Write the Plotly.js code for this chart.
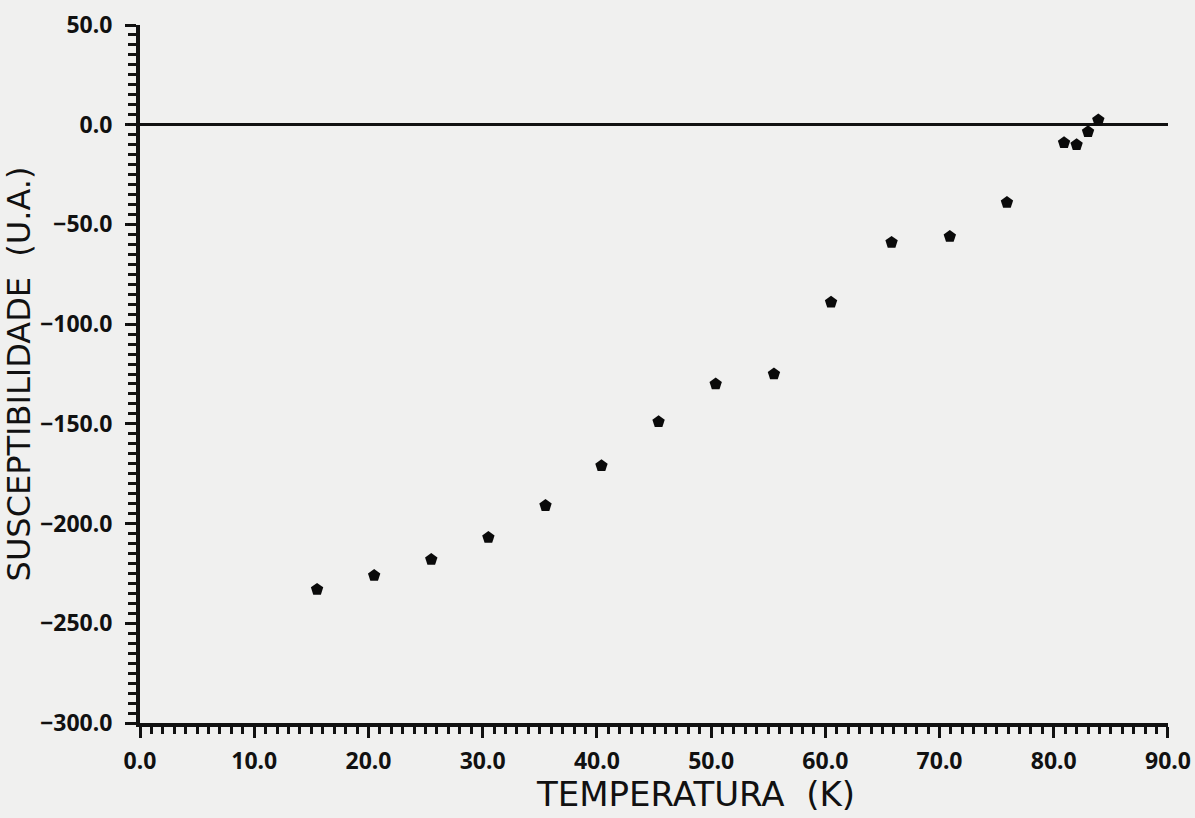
<!DOCTYPE html>
<html>
<head>
<meta charset="utf-8">
<script src="https://cdn.plot.ly/plotly-3.0.1.min.js"></script>
<style>
  html, body { margin: 0; padding: 0; background: #f0f0ef; }
  #chart { width: 1195px; height: 818px; }
</style>
</head>
<body>
<div id="chart"></div>
<script>
// Data
const temperatura = [15.5, 20.5, 25.5, 30.5, 35.5, 40.4, 45.4, 50.4, 55.5, 60.5, 65.8, 70.9, 75.9, 80.9, 82.0, 83.0, 83.9];
const susceptibilidade = [-233, -226, -218, -207, -191, -171, -149, -130, -125, -89, -59, -56, -39, -9, -10, -3.5, 2.4];

const xTitle = 'TEMPERATURA\u00a0\u00a0(K)';
const yTitle = 'SUSCEPTIBILIDADE\u00a0\u00a0(U.A.)';

const tickFont = { family: 'Noto Sans', size: 23, color: '#111', weight: 'bold' };

const trace = {
  x: temperatura,
  y: susceptibilidade,
  type: 'scatter',
  mode: 'markers',
  marker: { symbol: 'pentagon', size: 13, color: '#0a0a0a' },
  hoverinfo: 'x+y',
  showlegend: false
};

const layout = {
  width: 1195,
  height: 818,
  paper_bgcolor: '#f0f0ef',
  plot_bgcolor: '#f0f0ef',
  margin: { l: 140, r: 27, t: 25, b: 95 },
  showlegend: false,
  xaxis: {
    range: [-0.001, 90.001],
    dtick: 10,
    tick0: 0,
    tickformat: '.1f',
    showgrid: false,
    zeroline: false,
    showline: true,
    linecolor: '#111',
    linewidth: 4,
    ticks: 'outside',
    ticklen: 11,
    tickwidth: 3,
    tickcolor: '#111',
    ticklabelstandoff: 3,
    tickfont: tickFont,
    minor: { dtick: 1, ticks: 'outside', ticklen: 7, tickwidth: 3, tickcolor: '#111', showgrid: false },
    title: { text: '' },
    automargin: false
  },
  yaxis: {
    range: [-300.001, 50.001],
    dtick: 50,
    tick0: 0,
    tickformat: '.1f',
    showgrid: false,
    zeroline: true,
    zerolinecolor: '#111',
    zerolinewidth: 3,
    showline: true,
    linecolor: '#111',
    linewidth: 4,
    ticks: 'outside',
    ticklen: 11,
    tickwidth: 3,
    tickcolor: '#111',
    ticklabelstandoff: 8,
    tickfont: tickFont,
    minor: { dtick: 5, ticks: 'outside', ticklen: 8, tickwidth: 3, tickcolor: '#111', showgrid: false },
    title: { text: yTitle, font: { family: 'DejaVu Sans', size: 32, color: '#111' }, standoff: 4 },
    automargin: false
  },
  annotations: [
    {
      text: xTitle,
      xref: 'paper', yref: 'paper',
      x: 0.54, y: 0, xanchor: 'center', yanchor: 'top',
      yshift: -49,
      showarrow: false,
      font: { family: 'DejaVu Sans', size: 34, color: '#111' }
    }
  ]
};

Plotly.newPlot('chart', [trace], layout, { displayModeBar: false, staticPlot: true });
</script>
</body>
</html>
